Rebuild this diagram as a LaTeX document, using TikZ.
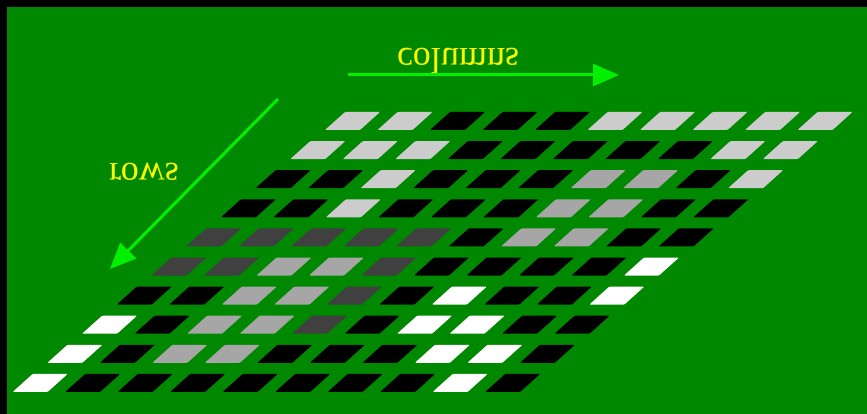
\documentclass[tikz,border=0pt]{standalone}
\usepackage{fontspec}
\setmainfont{Liberation Serif}
\usepackage{tikz}
\usetikzlibrary{arrows.meta, positioning}
\definecolor{bggreen}{RGB}{0, 136, 0}
\definecolor{arrowgreen}{RGB}{0, 240, 0}
\definecolor{labelyellow}{RGB}{250, 250, 0}
\definecolor{tileL}{RGB}{204, 204, 204}
\definecolor{tileM}{RGB}{166, 166, 166}
\definecolor{tileD}{RGB}{64, 64, 64}
\definecolor{tileB}{RGB}{0, 0, 0}
\definecolor{tileW}{RGB}{255, 255, 255}

\begin{document}
\begin{tikzpicture}[x=1pt, y=-1pt]
                % Background
                \useasboundingbox (0,0) rectangle (867,414);
                \fill[black] (0,0) rectangle (867,414);
                \fill[bggreen] (7,7) rectangle (867,414);

                % Tiles, row by row
                \foreach \r/\cols in {1/{L,L,B,B,B,L,L,L,L,L}, 2/{L,L,L,B,B,B,B,B,L,L},
                                      3/{B,B,L,B,B,B,M,M,B,L}, 4/{B,B,L,B,B,B,M,M,B,B},
                                      5/{D,D,D,D,D,B,M,M,B,B}, 6/{D,D,M,M,D,B,B,B,B,W},
                                      7/{B,B,M,M,D,B,W,B,B,W}, 8/{W,B,M,M,D,B,W,W,B,B},
                                      9/{W,B,M,M,B,B,B,W,W,B}, 10/{W,B,B,B,B,B,B,B,W,B}} {
                    \foreach \t [count=\c] in \cols {
                        \fill[tile\t, rounded corners=1pt]
                            ({325-34.7*(\r-1)+52.5*(\c-1)}, {130+29.1*(\r-1)})
                            -- ++(35,0) -- ++(20,-18) -- ++(-35,0) -- cycle;
                    }
                }

                % Columns arrow
                \coordinate (colstart) at (348,75);
                \coordinate (colend) at (619,75);
                \draw[arrowgreen, line width=3pt, -{Triangle[length=26pt, width=22pt]}] (colstart) -- (colend);
                \node[yscale=-1, text=labelyellow, font=\fontsize{36}{40}\selectfont] (collabel) at (458,61) {columns};

                % Rows arrow
                \coordinate (rowstart) at (278,99);
                \coordinate (rowend) at (110,269);
                \draw[arrowgreen, line width=3pt, -{Triangle[length=26pt, width=22pt]}] (rowstart) -- (rowend);
                \node[yscale=-1, text=labelyellow, font=\fontsize{36}{40}\selectfont] (rowlabel) at (144,172) {rows};
            \end{tikzpicture}
\end{document}
